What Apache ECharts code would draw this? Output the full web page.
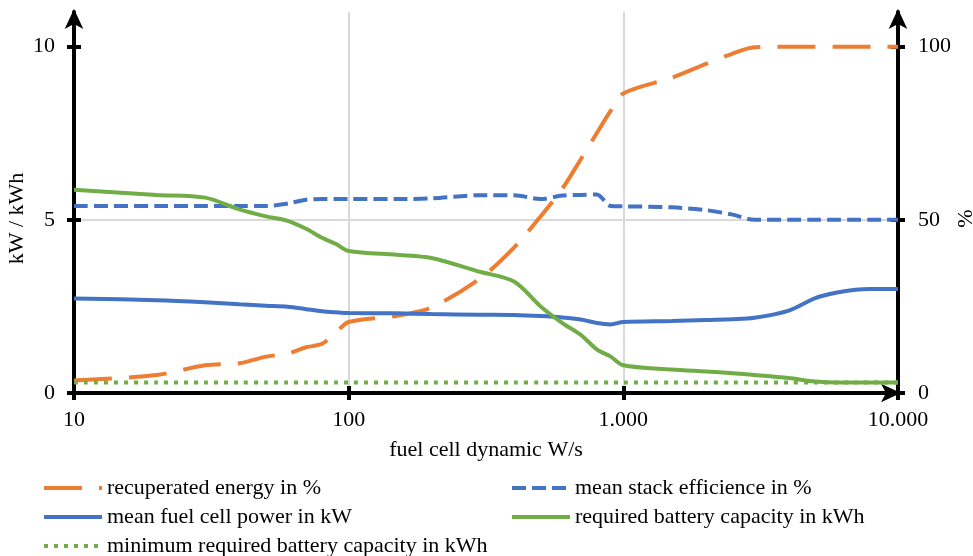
<!DOCTYPE html>
<html>
<head>
<meta charset="utf-8">
<script src="https://cdn.jsdelivr.net/npm/echarts@6/dist/echarts.min.js"></script>
<style>
  html, body { margin: 0; padding: 0; background: #fff; }
  #chart { width: 973px; height: 556px; }
</style>
</head>
<body>
<div id="chart"></div>
<script>
// fuel cell dynamic in W/s (log axis)
const dynamics = [10, 20, 30, 40, 50, 60, 70, 80, 90, 100, 150, 200, 300, 400, 500, 600, 700, 800, 900,
  1000, 1500, 2000, 2500, 3000, 4000, 5000, 6000, 7000, 8000, 10000];

// right axis, %
const recuperatedEnergy = [3.6, 5.2, 8.0, 8.6, 10.5, 11.4, 13.2, 14.2, 17.5, 20.5, 22.3, 24.7, 33, 42, 51, 59, 67.5, 75, 81.5,
  86.5, 91, 95, 98, 99.8, 100, 100, 100, 100, 100, 100];
const stackEfficiency = [54, 54, 54, 54, 54, 54.7, 55.8, 56, 56, 56, 56, 56.2, 57.1, 57.1, 56, 57, 57.2, 57.3, 54,
  53.9, 53.6, 52.8, 51.5, 50, 50, 50, 50, 50, 50, 50];

// left axis, kW / kWh
const fuelCellPower = [2.73, 2.68, 2.62, 2.56, 2.52, 2.49, 2.42, 2.36, 2.33, 2.31, 2.3, 2.28, 2.26, 2.25, 2.22, 2.18, 2.12, 2.02, 1.98,
  2.05, 2.08, 2.11, 2.13, 2.17, 2.38, 2.74, 2.9, 2.98, 3.0, 3.0];
const batteryCapacity = [5.87, 5.72, 5.64, 5.3, 5.1, 4.97, 4.74, 4.48, 4.3, 4.1, 3.99, 3.9, 3.5, 3.22, 2.5, 2.02, 1.68, 1.26, 1.05,
  0.8, 0.68, 0.62, 0.57, 0.52, 0.43, 0.33, 0.3, 0.3, 0.3, 0.3];
const minBatteryCapacity = [0.3, 0.3, 0.3, 0.3, 0.3, 0.3, 0.3, 0.3, 0.3, 0.3, 0.3, 0.3, 0.3, 0.3, 0.3, 0.3, 0.3, 0.3, 0.3,
  0.3, 0.3, 0.3, 0.3, 0.3, 0.3, 0.3, 0.3, 0.3, 0.3, 0.3];

const leftTicks = [0, 5, 10];
const rightTicks = [0, 50, 100];

const FONT = "Liberation Serif";
const ORANGE = "#ED7D31", BLUE = "#4472C4", GREEN = "#70AD47";

function pairs(vals) {
  return dynamics.map((x, i) => [x, vals[i]]);
}

function fmtThousands(v) {
  return String(v).replace(/\B(?=(\d{3})+(?!\d))/g, ".");
}

const axisLine = { show: true, lineStyle: { color: "#000", width: 4 }, symbol: ["none", "arrow"], symbolSize: [14, 20], symbolOffset: [0, 3] };
const labelStyle = { color: "#000", fontFamily: FONT, fontSize: 22 };

// duplicate axes only carry the inner half of the crossing tick marks
function innerTickY(pos, max, ticks) {
  return {
    type: "value", position: pos, min: 0, max: max, interval: max > 20 ? 50 : 5,
    axisLine: { show: false }, axisLabel: { show: false }, splitLine: { show: false },
    axisTick: { show: true, inside: true, length: 7, customValues: ticks, lineStyle: { color: "#000", width: 4 } }
  };
}

// one legend per entry, two columns
function legendItem(name, left, top) {
  return {
    left: left, top: top, padding: 0, itemWidth: 58, itemHeight: 14,
    itemStyle: { opacity: 0 }, lineStyle: { width: 4 }, textStyle: labelStyle, selectedMode: false,
    data: [name]
  };
}

let chart = echarts.init(document.getElementById("chart"));
chart.setOption({
  backgroundColor: "#fff",
  animation: false,
  grid: { left: 74, right: 75, top: 12, bottom: 163, containLabel: false, outerBoundsMode: "none" },
  xAxis: [
    {
      type: "log", logBase: 10, min: 10, max: 10000,
      name: "fuel cell dynamic W/s", nameLocation: "middle", nameGap: 46,
      nameTextStyle: labelStyle,
      axisLine: axisLine,
      axisTick: { show: true, length: 7, lineStyle: { color: "#000", width: 4 } },
      axisLabel: Object.assign({ margin: 16, formatter: fmtThousands }, labelStyle),
      splitLine: { show: true, showMinLine: false, showMaxLine: false, lineStyle: { color: "#D9D9D9", width: 2 } }
    },
    {
      type: "log", logBase: 10, min: 10, max: 10000, position: "bottom",
      axisLine: { show: false }, axisLabel: { show: false }, splitLine: { show: false },
      axisTick: { show: true, inside: true, length: 7, lineStyle: { color: "#000", width: 4 } }
    }
  ],
  yAxis: [
    {
      type: "value", position: "left", min: 0, max: 11, interval: 5,
      name: "kW / kWh", nameLocation: "middle", nameGap: 46, nameRotate: 90, nameMoveOverlap: false,
      nameTextStyle: Object.assign({ padding: [0, 32, 0, 0] }, labelStyle),
      axisLine: axisLine,
      axisTick: { show: true, length: 7, customValues: leftTicks, lineStyle: { color: "#000", width: 4 } },
      axisLabel: Object.assign({ margin: 19, customValues: leftTicks }, labelStyle),
      splitLine: { show: true, showMinLine: false, showMaxLine: false, lineStyle: { color: "#D9D9D9", width: 2 } }
    },
    {
      type: "value", position: "right", min: 0, max: 110, interval: 50,
      name: "%", nameLocation: "middle", nameGap: 57, nameRotate: 90, nameMoveOverlap: false,
      nameTextStyle: Object.assign({ padding: [0, 32, 0, 0] }, labelStyle),
      axisLine: axisLine,
      axisTick: { show: true, length: 7, customValues: rightTicks, lineStyle: { color: "#000", width: 4 } },
      axisLabel: Object.assign({ margin: 20, customValues: rightTicks }, labelStyle),
      splitLine: { show: false }
    },
    innerTickY("left", 11, leftTicks),
    innerTickY("right", 110, rightTicks)
  ],
  legend: [
    legendItem("recuperated energy in %", 42, 477),
    legendItem("mean fuel cell power in kW", 42, 506),
    legendItem("minimum required battery capacity in kWh", 42, 535),
    legendItem("mean stack efficience in %", 510, 477),
    legendItem("required battery capacity in kWh", 510, 506)
  ],
  series: [
    {
      name: "recuperated energy in %", type: "line", yAxisIndex: 1, smooth: 0.3, symbol: "none",
      lineStyle: { color: ORANGE, width: 4, type: [38, 17] }, itemStyle: { color: ORANGE },
      data: pairs(recuperatedEnergy)
    },
    {
      name: "mean stack efficience in %", type: "line", yAxisIndex: 1, smooth: 0.3, symbol: "none",
      lineStyle: { color: BLUE, width: 4, type: [14, 6] }, itemStyle: { color: BLUE },
      data: pairs(stackEfficiency)
    },
    {
      name: "mean fuel cell power in kW", type: "line", yAxisIndex: 0, smooth: 0.3, symbol: "none",
      lineStyle: { color: BLUE, width: 4 }, itemStyle: { color: BLUE },
      data: pairs(fuelCellPower)
    },
    {
      name: "required battery capacity in kWh", type: "line", yAxisIndex: 0, smooth: 0.3, symbol: "none",
      lineStyle: { color: GREEN, width: 4 }, itemStyle: { color: GREEN },
      data: pairs(batteryCapacity)
    },
    {
      name: "minimum required battery capacity in kWh", type: "line", yAxisIndex: 0, smooth: 0.3, symbol: "none",
      lineStyle: { color: GREEN, width: 4, type: [4, 6] }, itemStyle: { color: GREEN },
      data: pairs(minBatteryCapacity)
    }
  ]
});
</script>
</body>
</html>
